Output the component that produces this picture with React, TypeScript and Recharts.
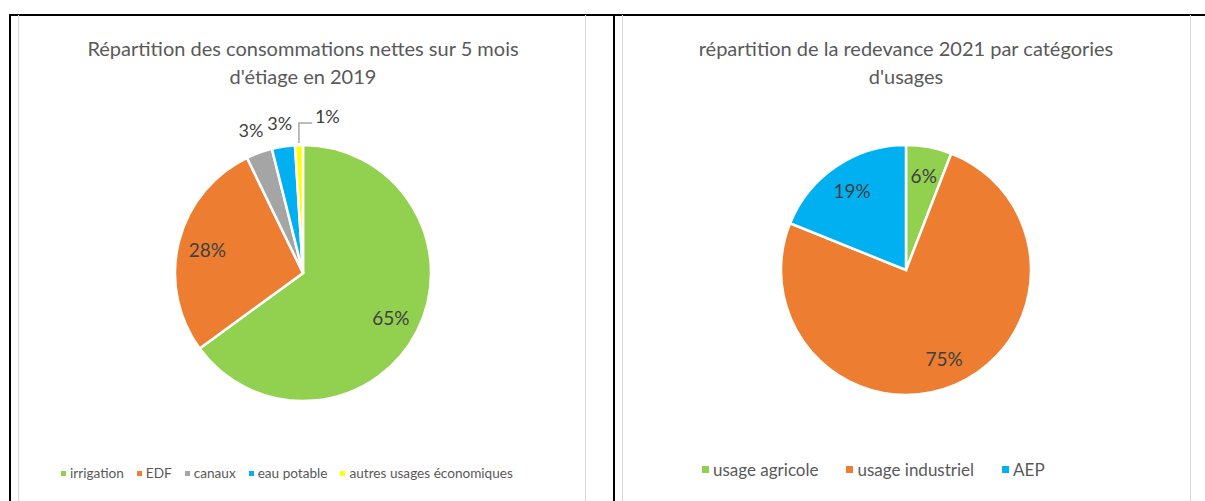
import { PieChart, Pie, Cell, Legend } from 'recharts';

// Répartition des consommations nettes (2019)
const consoNames = ['irrigation', 'EDF', 'canaux', 'eau potable', 'autres usages économiques'];
const consoValues = [64.9, 27.8, 3.3, 2.9, 1.0];
const consoColors = ['#92d050', '#ed7d31', '#a5a5a5', '#00b0f0', '#ffff00'];

// Répartition de la redevance 2021
const redevNames = ['usage agricole', 'usage industriel', 'AEP'];
const redevValues = [5.9, 75.2, 18.9];
const redevColors = ['#92d050', '#ed7d31', '#00b0f0'];

const FONT = 'Lato, "Open Sans", sans-serif';
const TEXT = '#595959';
const LABEL = '#404040';
const RADIAN = Math.PI / 180;

const consoData = consoNames.map((name, i) => ({ name, value: consoValues[i] }));
const redevData = redevNames.map((name, i) => ({ name, value: redevValues[i] }));

// labels à l'intérieur, petites parts à l'extérieur, la plus petite avec une ligne de rappel
const renderLabel = ({ cx, cy, midAngle, outerRadius, percent }: any) => {
  const pct = `${Math.round(percent * 100)}%`;
  const cos = Math.cos(-midAngle * RADIAN);
  const sin = Math.sin(-midAngle * RADIAN);
  if (percent >= 0.05) {
    const r = outerRadius * 0.77;
    return (
      <text x={cx + r * cos} y={cy + r * sin} fill={LABEL} fontSize={19} fontFamily={FONT}
        textAnchor="middle" dominantBaseline="central">{pct}</text>
    );
  }
  if (percent >= 0.02) {
    const r = outerRadius + 24;
    return (
      <text x={cx + r * cos} y={cy + r * sin} fill={LABEL} fontSize={18} fontFamily={FONT}
        textAnchor="middle" dominantBaseline="central">{pct}</text>
    );
  }
  const sx = cx + (outerRadius + 2) * cos;
  const sy = cy + (outerRadius + 2) * sin;
  const ly = cy - outerRadius - 22;
  return (
    <g>
      <polyline points={`${sx},${sy} ${sx},${ly} ${sx + 13},${ly}`} stroke="#a6a6a6" strokeWidth={1.5} fill="none" />
      <text x={sx + 16} y={ly - 7} fill={LABEL} fontSize={18} fontFamily={FONT}
        textAnchor="start" dominantBaseline="central">{pct}</text>
    </g>
  );
};

const makeLegend = (names: string[], colors: string[], fontSize: number, box: number, boxGap: number, itemGap: number) => () => (
  <div style={{ display: 'flex', alignItems: 'center', fontFamily: FONT, fontSize, color: TEXT, whiteSpace: 'nowrap' }}>
    {names.map((n, i) => (
      <span key={n} style={{ display: 'inline-flex', alignItems: 'center', marginRight: itemGap }}>
        <span style={{ width: box, height: box, background: colors[i], marginRight: boxGap, display: 'inline-block' }} />
        {n}
      </span>
    ))}
  </div>
);

const Title = ({ lines, x }: { lines: string[]; x: number }) => (
  <div style={{ position: 'absolute', left: x - 300, top: 34, width: 600, textAlign: 'center', fontFamily: FONT, fontSize: 20, lineHeight: '28px', color: TEXT }}>
    {lines.map(l => <div key={l}>{l}</div>)}
  </div>
);

export default function App() {
  return (
    <div style={{ position: 'absolute', left: 0, top: 0, width: 1205, height: 501, overflow: 'hidden', background: '#fff' }}>
      {/* bordures du tableau */}
      <div style={{ position: 'absolute', left: 9, top: 14, width: 1196, height: 2, background: '#000' }} />
      <div style={{ position: 'absolute', left: 9, top: 14, width: 2, height: 487, background: '#000' }} />
      <div style={{ position: 'absolute', left: 613, top: 14, width: 2, height: 487, background: '#000' }} />
      {/* cadres des graphiques */}
      <div style={{ position: 'absolute', left: 18, top: 15, width: 566, height: 500, border: '1.5px solid #d9d9d9', borderTop: 'none' }} />
      <div style={{ position: 'absolute', left: 622, top: 15, width: 567, height: 500, border: '1.5px solid #d9d9d9', borderTop: 'none' }} />

      <Title lines={['Répartition des consommations nettes sur 5 mois', "d'étiage en 2019"]} x={303} />
      <Title lines={['répartition de la redevance 2021 par catégories', "d'usages"]} x={906} />

      <div style={{ position: 'absolute', left: 18, top: 15 }}>
        <PieChart width={567} height={486} margin={{ top: 0, right: 0, bottom: 0, left: 0 }}>
          <Pie data={consoData} dataKey="value" nameKey="name" cx={285} cy={258} outerRadius={128}
            startAngle={90} endAngle={-270} stroke="#fff" strokeWidth={2.5}
            label={renderLabel} labelLine={false} isAnimationActive={false}>
            {consoData.map((d, i) => <Cell key={d.name} fill={consoColors[i]} />)}
          </Pie>
          <Legend content={makeLegend(consoNames, consoColors, 13.6, 5, 4, 13)}
            wrapperStyle={{ left: 43, top: 450, bottom: 'auto', width: 520 }} />
        </PieChart>
      </div>

      <div style={{ position: 'absolute', left: 622, top: 15 }}>
        <PieChart width={568} height={486} margin={{ top: 0, right: 0, bottom: 0, left: 0 }}>
          <Pie data={redevData} dataKey="value" nameKey="name" cx={284} cy={255} outerRadius={125}
            startAngle={90} endAngle={-270} stroke="#fff" strokeWidth={2.5}
            label={renderLabel} labelLine={false} isAnimationActive={false}>
            {redevData.map((d, i) => <Cell key={d.name} fill={redevColors[i]} />)}
          </Pie>
          <Legend content={makeLegend(redevNames, redevColors, 17, 7, 4, 28)}
            wrapperStyle={{ left: 80, top: 444, bottom: 'auto', width: 480 }} />
        </PieChart>
      </div>
    </div>
  );
}
